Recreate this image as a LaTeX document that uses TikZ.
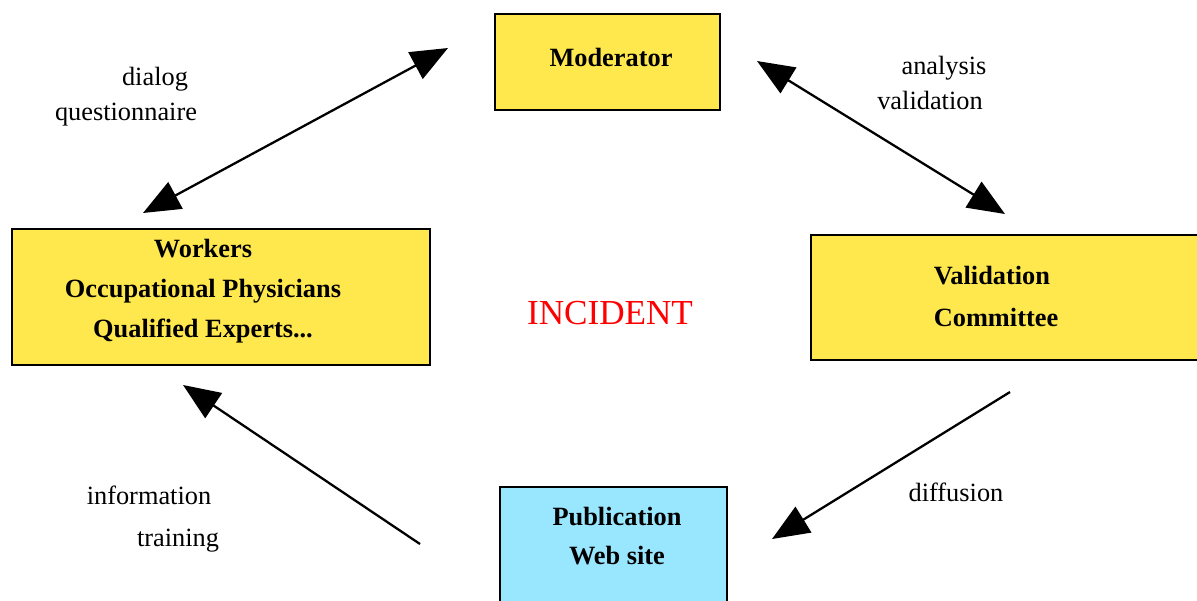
\documentclass[tikz,border=0pt]{standalone}
\usepackage{fontspec}
\setmainfont{Liberation Serif}
\usetikzlibrary{arrows.meta,positioning}
\definecolor{boxyellow}{RGB}{255,232,77}
\definecolor{boxblue}{RGB}{153,230,255}
\tikzset{
  basic/.style   = {draw, line width=1.2pt, rectangle, inner sep=0pt},
  yellowbox/.style = {basic, fill=boxyellow},
  bluebox/.style = {basic, fill=boxblue},
  boxtext/.style = {font=\fontsize{15}{22.6}\selectfont\bfseries, align=center},
  lbl/.style     = {font=\fontsize{15}{18}\selectfont},
  flow/.style    = {line width=1.3pt}
}

\begin{document}
\begin{tikzpicture}[x=0.02cm, y=-0.02cm,
  >={Triangle[length=7.4mm,width=6mm]}]
\useasboundingbox (0,0) rectangle (1197,600);

% the four boxes
\node[yellowbox, minimum width=4.5cm, minimum height=1.92cm] (mod) at (607.5,62) {};
\node[yellowbox, minimum width=8.36cm, minimum height=2.72cm] (work) at (221,297) {};
\node[yellowbox, minimum width=7.76cm, minimum height=2.5cm] (valid) at (1005,297.5) {};
\node[bluebox, minimum width=4.54cm, minimum height=2.66cm] (pub) at (613.5,553.5) {};

% texts in the boxes
\node[boxtext] (modtxt) at (611,57) {Moderator};
\node[boxtext] (worktxt) at (203,291) {Workers\\Occupational Physicians\\Qualified Experts...};
\node[boxtext, align=left, font=\fontsize{15}{24.3}\selectfont\bfseries] (validtxt) at (996,296.5) {Validation\\Committee};
\node[boxtext] (pubtxt) at (617,536) {Publication\\Web site};

% centre
\node[font=\fontsize{20}{24}\selectfont, text=red] (inc) at (610,313) {INCIDENT};

% arrow ends
\coordinate (a1) at (143,213);
\coordinate (a2) at (448,48);
\coordinate (b1) at (757,61);
\coordinate (b2) at (1005,214);
\coordinate (c1) at (1010,392);
\coordinate (c2) at (772,539);
\coordinate (d1) at (420,544);
\coordinate (d2) at (183,385);

\draw[flow, <->] (a1) -- (a2);
\draw[flow, <->] (b1) -- (b2);
\draw[flow, ->] (c1) -- (c2);
\draw[flow, ->] (d1) -- (d2);

% arrow labels
\node[lbl] (l1) at (155,79) {dialog};
\node[lbl] (l2) at (126,115) {questionnaire};
\node[lbl] (l3) at (944,68) {analysis};
\node[lbl] (l4) at (930,100) {validation};
\node[lbl] (l5) at (149,495) {information};
\node[lbl] (l6) at (178,541) {training};
\node[lbl] (l7) at (956,492) {diffusion};
\end{tikzpicture}
\end{document}
